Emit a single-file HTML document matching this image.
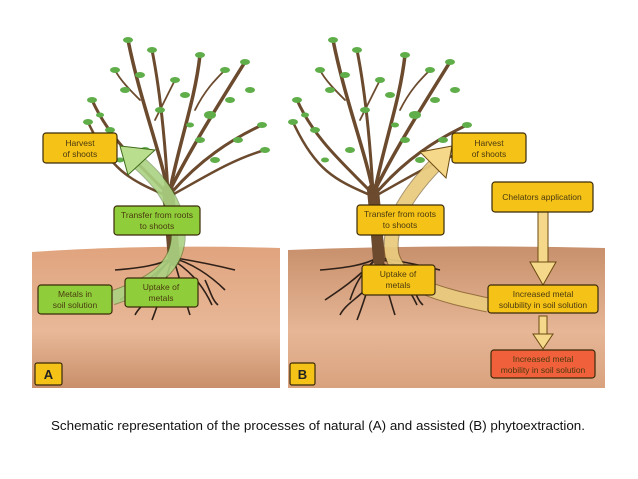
<!DOCTYPE html>
<html><head><meta charset="utf-8"><style>
body{margin:0;background:#fff;width:638px;height:479px;overflow:hidden}
svg{display:block}
text{font-family:"Liberation Sans",sans-serif;font-size:8.5px;fill:#4a3a10;text-anchor:middle}
</style></head><body>
<svg width="638" height="479" viewBox="0 0 638 479" xmlns="http://www.w3.org/2000/svg">
<defs>
<linearGradient id="soil" x1="0" y1="0" x2="0" y2="1">
<stop offset="0" stop-color="#e0a47e"/><stop offset="0.6" stop-color="#e8b898"/><stop offset="1" stop-color="#c98f6a"/></linearGradient>
<linearGradient id="soilB" x1="0" y1="0" x2="0" y2="1">
<stop offset="0" stop-color="#c8906c"/><stop offset="0.6" stop-color="#e6b696"/><stop offset="1" stop-color="#d9a27e"/></linearGradient>
<g id="tree">
<g fill="none" stroke="#6b4a2e" stroke-linecap="round">
<path d="M174 260 C172 235 170 210 168 190" stroke-width="12"/>
<path d="M168 192 C160 150 140 100 128 40" stroke-width="3.5"/>
<path d="M168 192 C165 140 160 90 152 50" stroke-width="3"/>
<path d="M170 190 C180 140 195 100 200 55" stroke-width="3.5"/>
<path d="M170 190 C190 150 215 110 245 62" stroke-width="3.5"/>
<path d="M172 192 C200 160 230 140 262 125" stroke-width="3"/>
<path d="M166 192 C140 165 110 140 92 100" stroke-width="3"/>
<path d="M165 195 C130 180 110 170 88 122" stroke-width="2.5"/>
<path d="M172 195 C200 180 230 160 265 150" stroke-width="2.5"/>
<path d="M195 110 C205 90 215 80 225 70" stroke-width="1.8"/>
<path d="M140 100 C130 90 120 80 115 70" stroke-width="1.8"/>
<path d="M155 120 C165 100 170 90 175 80" stroke-width="1.8"/>
</g>
<g fill="#5fae4a">
<ellipse cx="128" cy="40" rx="5" ry="3"/><ellipse cx="152" cy="50" rx="5" ry="3"/><ellipse cx="200" cy="55" rx="5" ry="3"/>
<ellipse cx="245" cy="62" rx="5" ry="3"/><ellipse cx="262" cy="125" rx="5" ry="3"/><ellipse cx="92" cy="100" rx="5" ry="3"/>
<ellipse cx="88" cy="122" rx="5" ry="3"/><ellipse cx="265" cy="150" rx="5" ry="3"/><ellipse cx="140" cy="75" rx="5" ry="3"/>
<ellipse cx="125" cy="90" rx="5" ry="3"/><ellipse cx="185" cy="95" rx="5" ry="3"/><ellipse cx="210" cy="115" rx="6" ry="4"/>
<ellipse cx="230" cy="100" rx="5" ry="3"/><ellipse cx="225" cy="70" rx="5" ry="3"/><ellipse cx="115" cy="70" rx="5" ry="3"/>
<ellipse cx="175" cy="80" rx="5" ry="3"/><ellipse cx="145" cy="150" rx="5" ry="3"/><ellipse cx="238" cy="140" rx="5" ry="3"/>
<ellipse cx="200" cy="140" rx="5" ry="3"/><ellipse cx="160" cy="110" rx="5" ry="3"/><ellipse cx="110" cy="130" rx="5" ry="3"/>
<ellipse cx="250" cy="90" rx="5" ry="3"/><ellipse cx="100" cy="115" rx="4" ry="2.5"/><ellipse cx="190" cy="125" rx="4" ry="2.5"/>
<ellipse cx="215" cy="160" rx="5" ry="3"/><ellipse cx="120" cy="160" rx="4" ry="2.5"/>
</g>
</g>
<g id="roots" fill="none" stroke="#2e2018" stroke-width="1.6">
<path d="M172 258 C160 265 140 268 115 270"/><path d="M172 258 C190 262 210 275 225 290"/>
<path d="M172 260 C165 280 160 300 152 320"/><path d="M174 260 C180 280 185 300 190 315"/>
<path d="M170 260 C150 280 135 290 120 300"/><path d="M176 258 C200 262 215 265 235 270"/>
<path d="M160 290 C150 300 140 305 135 315"/><path d="M205 280 C210 290 212 300 218 305"/>
<path d="M176 262 C195 275 205 290 212 305"/><path d="M168 262 C155 275 150 285 145 300"/>
</g>
</defs>
<path d="M32 252 Q150 244 280 248 L280 388 L32 388 Z" fill="url(#soil)"/>
<path d="M288 250 Q440 244 605 248 L605 388 L288 388 Z" fill="url(#soilB)"/>
<use href="#roots"/><use href="#tree"/>
<use href="#roots" transform="translate(205,0)"/><use href="#tree" transform="translate(205,0)"/>
<path d="M112 298 C150 285 175 270 178 240 C180 210 165 185 138 162" fill="none" stroke="#3f6a1a" stroke-width="15" opacity="0.5"/>
<path d="M112 298 C150 285 175 270 178 240 C180 210 165 185 138 162" fill="none" stroke="#b8de8e" stroke-width="13" opacity="0.8"/>
<polygon points="120,146 155,150 128,175" fill="#b8de8e" stroke="#3f6a1a" stroke-width="1"/>
<path d="M488 305 C440 295 400 285 392 255 C386 225 410 190 440 160" fill="none" stroke="#6b4a10" stroke-width="15" opacity="0.6"/>
<path d="M488 305 C440 295 400 285 392 255 C386 225 410 190 440 160" fill="none" stroke="#f6d88a" stroke-width="13" opacity="0.85"/>
<polygon points="452,146 420,152 446,178" fill="#f6d88a" stroke="#6b4a10" stroke-width="1"/>
<rect x="538" y="212" width="10" height="50" fill="#f6d88a" stroke="#6b4a10" stroke-width="1"/>
<polygon points="530,262 556,262 543,285" fill="#f6d88a" stroke="#6b4a10" stroke-width="1"/>
<rect x="539" y="316" width="8" height="18" fill="#f6d88a" stroke="#6b4a10" stroke-width="1"/>
<polygon points="533,334 553,334 543,349" fill="#f6d88a" stroke="#6b4a10" stroke-width="1"/>
<g stroke="#3a2a08" stroke-width="1.2">
<rect x="43" y="133" width="74" height="30" rx="3" fill="#f5c217"/>
<rect x="114" y="206" width="86" height="29" rx="3" fill="#8fce3a"/>
<rect x="38" y="285" width="74" height="29" rx="3" fill="#8fce3a"/>
<rect x="125" y="278" width="73" height="29" rx="3" fill="#8fce3a"/>
<rect x="35" y="363" width="27" height="22" rx="2" fill="#f5c217"/>
<rect x="452" y="133" width="74" height="30" rx="3" fill="#f5c217"/>
<rect x="492" y="182" width="101" height="30" rx="3" fill="#f5c217"/>
<rect x="357" y="205" width="87" height="30" rx="3" fill="#f5c217"/>
<rect x="362" y="265" width="73" height="30" rx="3" fill="#f5c217"/>
<rect x="488" y="285" width="110" height="28" rx="3" fill="#f5c217"/>
<rect x="491" y="350" width="104" height="28" rx="3" fill="#f0603a"/>
<rect x="290" y="363" width="25" height="22" rx="2" fill="#f5c217"/>
</g>
<text x="80" y="146">Harvest</text><text x="80" y="157">of shoots</text>
<text x="157" y="218">Transfer from roots</text><text x="157" y="229">to shoots</text>
<text x="75" y="297">Metals in</text><text x="75" y="308">soil solution</text>
<text x="161" y="290">Uptake of</text><text x="161" y="301">metals</text>
<text x="489" y="146">Harvest</text><text x="489" y="157">of shoots</text>
<text x="542" y="200">Chelators application</text>
<text x="400" y="217">Transfer from roots</text><text x="400" y="228">to shoots</text>
<text x="398" y="277">Uptake of</text><text x="398" y="288">metals</text>
<text x="543" y="297">Increased metal</text><text x="543" y="308">solubility in soil solution</text>
<text x="543" y="362">Increased metal</text><text x="543" y="373">mobility in soil solution</text>
<text x="48.5" y="379" style="font-size:13px;font-weight:bold;fill:#222">A</text>
<text x="302.5" y="379" style="font-size:13px;font-weight:bold;fill:#222">B</text>
<text x="318" y="430" textLength="534" lengthAdjust="spacingAndGlyphs" style="font-size:13px;fill:#111">Schematic representation of the processes of natural (A) and assisted (B) phytoextraction.</text>
</svg>
</body></html>
